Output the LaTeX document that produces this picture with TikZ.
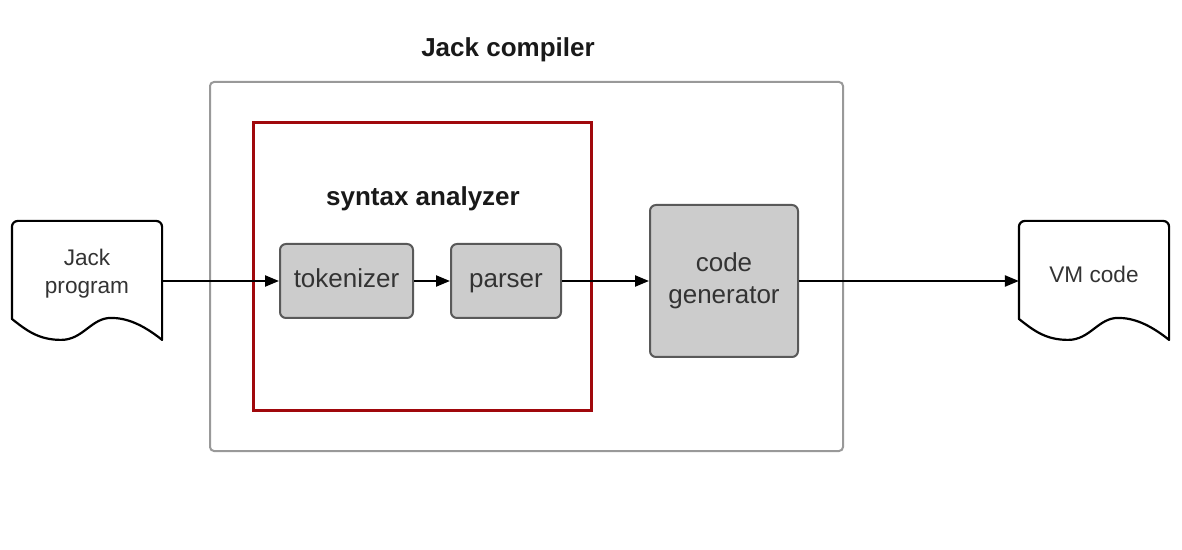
\documentclass[tikz,border=0pt]{standalone}
\usepackage{fontspec}
\setmainfont{Liberation Sans}
\usetikzlibrary{arrows.meta}
\definecolor{analyzerred}{RGB}{160,8,12}
\definecolor{boxgray}{RGB}{204,204,204}
\definecolor{textgray}{RGB}{51,51,51}

\begin{document}
\begin{tikzpicture}[x=0.5pt,y=-0.5pt,>={Triangle[length=7pt,width=5.5pt]},
                    line width=1.1pt]
  \tikzstyle{stage}=[fill=boxgray,draw=black!65,rounded corners=3pt,text=textgray,line width=1pt,
                     font=\fontsize{13}{16}\selectfont,align=center,minimum height=37pt]
  \tikzstyle{doc}=[text=textgray,font=\fontsize{11.3}{14}\selectfont,align=center,
                   minimum width=74pt,minimum height=52pt]
  \tikzstyle{heading}=[font=\bfseries\fontsize{13}{16}\selectfont,text=black!90]
  \useasboundingbox (0,0) rectangle (1182,550);

  \node[draw=black!40,line width=1pt,rounded corners=2pt,minimum width=316.5pt,minimum height=184.5pt] (C) at (526.5,266.5) {};
  \node[heading] (CT) at (508,50) {Jack compiler};
  \node[draw=analyzerred,line width=1.5pt,minimum width=169pt,minimum height=143.5pt] (S) at (422,266.5) {};
  \node[heading] (ST) at (423,199) {syntax analyzer};

  \node[doc]   (J) at (87,274)    {Jack\\program};
  \node[stage] (T) at (346.5,281) [minimum width=66.5pt,text height=9.5pt,text depth=2.8pt] {tokenizer};
  \node[stage] (P) at (506,281)   [minimum width=55pt,text height=9.5pt,text depth=2.8pt]   {parser};
  \node[stage] (G) at (724,281)   [minimum width=74pt,minimum height=76pt] {code\\generator};
  \node[doc]   (V) at (1094,274)  {VM code};

  % document outlines with wavy bottom
  \foreach \d in {J,V}
    \draw[line width=1.1pt,line join=round] (\d.north west) ++(0,98) [rounded corners=3pt] -- (\d.north west) -- (\d.north east)
      [sharp corners] -- ++(0,119)
      .. controls +(-20,-16) and +(15,0) .. ++(-51,-22)
      .. controls +(-20,0) and +(22,0) .. ++(-50,22)
      .. controls +(-22,0) and +(15,12) .. cycle;

  \path[->] (J.east |- T) edge (T)
            (T) edge (P)
            (P) edge (G)
            (G) edge (V.west |- G);
\end{tikzpicture}
\end{document}
